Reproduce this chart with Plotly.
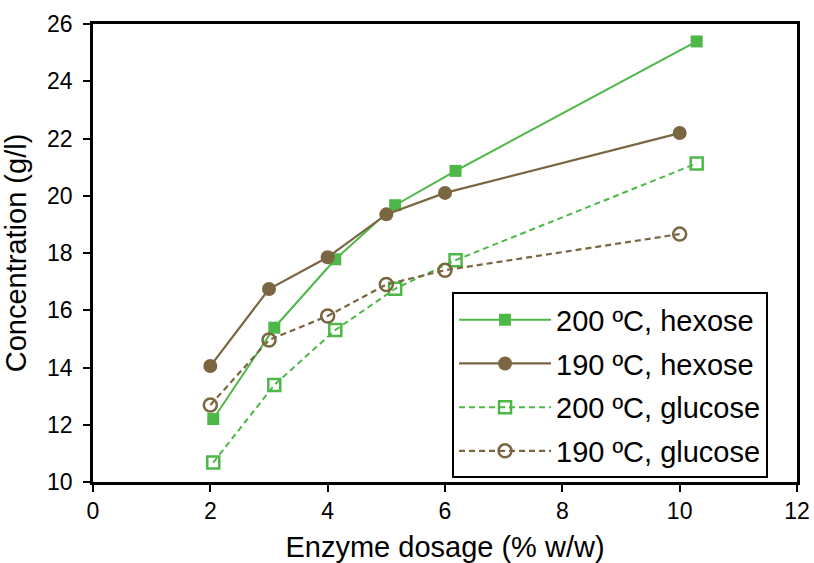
import plotly.graph_objects as go

# Data
x_200 = [2.05, 3.09, 4.13, 5.15, 6.18, 10.29]
x_190 = [2.0, 3.0, 4.0, 5.0, 6.0, 10.0]
hexose_200 = [12.2, 15.39, 17.78, 19.67, 20.87, 25.39]
hexose_190 = [14.05, 16.74, 17.85, 19.35, 20.1, 22.19]
glucose_200 = [10.68, 13.39, 15.31, 16.75, 17.75, 21.13]
glucose_190 = [12.69, 14.96, 15.8, 16.9, 17.4, 18.66]

names = ["200 ºC, hexose", "190 ºC, hexose", "200 ºC, glucose", "190 ºC, glucose"]

GREEN = "#4DB848"
BROWN = "#7B6642"
FONT = "Liberation Sans, Arial, sans-serif"

fig = go.Figure()
fig.add_trace(go.Scatter(x=x_200, y=hexose_200, name=names[0], mode="lines+markers",
                         legendgroup="a",
                         line=dict(color=GREEN, width=2),
                         marker=dict(symbol="square", size=12, color=GREEN)))
fig.add_trace(go.Scatter(x=x_190, y=hexose_190, name=names[1], mode="lines+markers",
                         legendgroup="b",
                         line=dict(color=BROWN, width=2.2),
                         marker=dict(symbol="circle", size=14, color=BROWN)))
fig.add_trace(go.Scatter(x=x_200, y=glucose_200, name=names[2], mode="lines+markers",
                         legendgroup="c",
                         line=dict(color=GREEN, width=2, dash="6px,4px"),
                         marker=dict(symbol="square-open", size=12, color=GREEN,
                                     line=dict(width=2.5, color=GREEN))))
fig.add_trace(go.Scatter(x=x_190, y=glucose_190, name=names[3], mode="lines+markers",
                         legendgroup="d",
                         line=dict(color=BROWN, width=2.2, dash="6px,4px"),
                         marker=dict(symbol="circle-open", size=13, color=BROWN,
                                     line=dict(width=2.5, color=BROWN))))

fig.update_layout(
    width=814, height=563,
    margin=dict(l=93, r=17, t=24, b=81, autoexpand=False),
    paper_bgcolor="white", plot_bgcolor="white",
    font=dict(family=FONT, color="black", size=23),
    showlegend=True,
    legend=dict(
        x=0.51, y=0.414, xanchor="left", yanchor="top",
        bgcolor="white", bordercolor="black", borderwidth=2,
        font=dict(family=FONT, size=29, color="black"),
        tracegroupgap=3, itemwidth=92,
        traceorder="grouped",
    ),
    xaxis=dict(
        range=[0, 12], dtick=2, tick0=0, automargin=False,
        showgrid=False, zeroline=False,
        showline=True, linecolor="black", linewidth=2.5, mirror=True,
        ticks="outside", ticklen=7, tickwidth=2, tickcolor="black",
        tickfont=dict(size=23, color="black"),
        title=dict(text="Enzyme dosage (% w/w)", font=dict(size=29, color="black")),
    ),
    yaxis=dict(
        range=[10, 26], dtick=2, tick0=10, automargin=False,
        showgrid=False, zeroline=False,
        showline=True, linecolor="black", linewidth=2.5, mirror=True,
        ticks="outside", ticklen=7, tickwidth=2, tickcolor="black",
        tickfont=dict(size=23, color="black"),
        ticklabelstandoff=6,
        title=dict(text="Concentration (g/l)", font=dict(size=29, color="black")),
    ),
)

fig.write_html("out.html")
